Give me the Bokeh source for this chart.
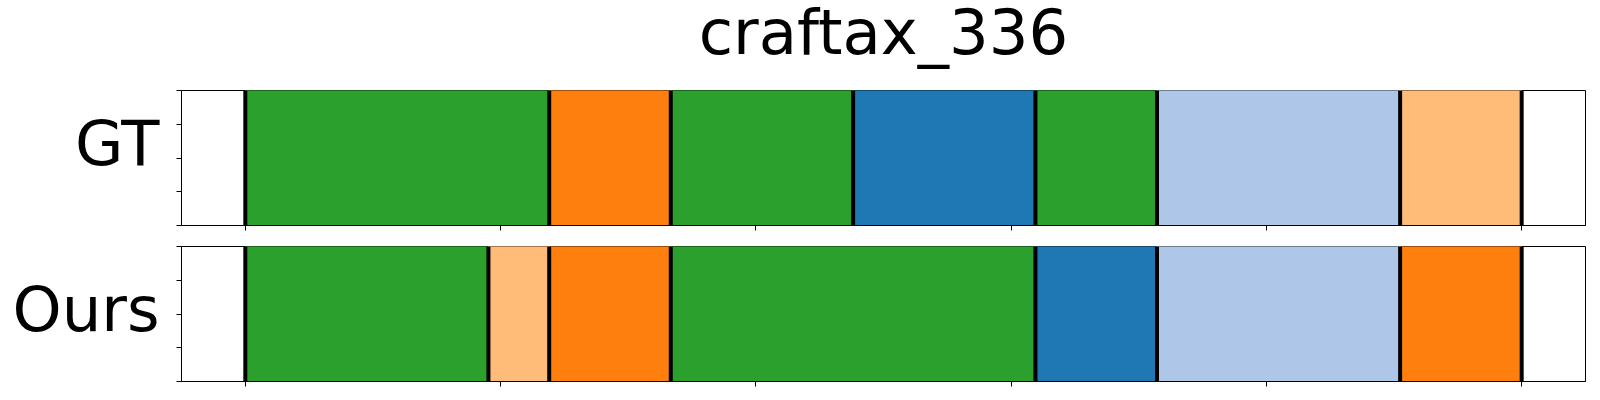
from bokeh.plotting import figure
from bokeh.layouts import column, row
from bokeh.models import Range1d, FixedTicker
from bokeh.core.properties import value
from bokeh.embed import file_html
from bokeh.resources import INLINE

# ---- data ----
title_text = "craftax_336"
row_labels = ["GT", "Ours"]
total_steps = 21
gt_bounds = [0, 5, 7, 10, 13, 15, 19, 21]
gt_colors = ["#2ca02c", "#ff7f0e", "#2ca02c", "#1f77b4", "#2ca02c", "#aec7e8", "#ffbb78"]
ours_bounds = [0, 4, 5, 7, 13, 15, 19, 21]
ours_colors = ["#2ca02c", "#ffbb78", "#ff7f0e", "#2ca02c", "#1f77b4", "#aec7e8", "#ff7f0e"]
x_ticks = [0.0, 0.2, 0.4, 0.6, 0.8, 1.0]
y_ticks = [0.0, 0.25, 0.5, 0.75, 1.0]

# ---- layout / style ----
FONT = "DejaVu Sans"
FSIZE = "62.5px"
FRAME_W = 1404
FRAME_H = 135
LABEL_W = 160
GAP_LEFT = 21
RIGHT = 6
TITLE_H = 89
X_RANGE = (-0.05, 1.05)


def blank_fig(w, h, xr, yr, left=0, right=0):
    f = figure(frame_width=w, frame_height=h, output_backend="svg",
               toolbar_location=None, x_range=Range1d(*xr), y_range=Range1d(*yr),
               x_axis_location=None, y_axis_location=None,
               min_border_left=left, min_border_right=right,
               min_border_top=0, min_border_bottom=0)
    f.xgrid.visible = False
    f.ygrid.visible = False
    f.outline_line_color = None
    f.background_fill_color = "white"
    f.border_fill_color = "white"
    return f


# title strip (shares horizontal geometry with panels)
tf = blank_fig(FRAME_W, TITLE_H, X_RANGE, (0, TITLE_H), left=LABEL_W + GAP_LEFT, right=RIGHT)
tf.text(x=[0.5], y=[56.7], text=[title_text], text_font=value(FONT),
        text_font_size=value(FSIZE), text_align="center",
        text_baseline="alphabetic", text_color="black", text_line_height=1.0)


def make_panel(bounds, colors, top_border, bottom_border):
    fr = [b / total_steps for b in bounds]
    p = figure(frame_width=FRAME_W, frame_height=FRAME_H,
               output_backend="svg", toolbar_location=None,
               x_range=Range1d(*X_RANGE), y_range=Range1d(0, 1),
               min_border_left=GAP_LEFT, min_border_right=RIGHT,
               min_border_top=top_border, min_border_bottom=bottom_border)
    p.quad(left=fr[:-1], right=fr[1:], bottom=0, top=1,
           fill_color=colors, line_color=colors, line_width=1)
    p.segment(x0=fr, y0=0, x1=fr, y1=1, line_color="black", line_width=4)

    p.xgrid.visible = False
    p.ygrid.visible = False
    p.outline_line_color = "black"
    p.outline_line_width = 1
    p.outline_line_alpha = 1
    p.background_fill_color = "white"
    p.border_fill_color = "white"

    p.xaxis.ticker = FixedTicker(ticks=x_ticks)
    p.yaxis.ticker = FixedTicker(ticks=y_ticks)
    for ax in (p.xaxis, p.yaxis):
        ax.major_label_text_font_size = "0px"
        ax.major_label_standoff = 0
        ax.minor_tick_line_color = None
        ax.major_tick_in = 0
        ax.major_tick_out = 5
        ax.major_tick_line_color = "black"
        ax.major_tick_line_width = 1
        ax.axis_line_color = "black"
        ax.axis_line_width = 1
    p.xaxis.major_label_overrides = {t: "" for t in x_ticks}
    p.yaxis.major_label_overrides = {t: "" for t in y_ticks}
    return p


def make_label(text, total_h, y_pos):
    f = blank_fig(LABEL_W, total_h, (0, LABEL_W), (0, total_h))
    f.text(x=[LABEL_W - 1], y=[y_pos], text=[text],
           text_font=value(FONT), text_font_size=value(FSIZE),
           text_align="right", text_baseline="alphabetic", text_color="black",
           text_line_height=1.0)
    return f


p1 = make_panel(gt_bounds, gt_colors, 1, 10)      # height 146
p2 = make_panel(ours_bounds, ours_colors, 11, 8)  # height 154
l1 = make_label(row_labels[0], 146, 93)
l2 = make_label(row_labels[1], 154, 91)

layout = column(tf, row(l1, p1, spacing=0), row(l2, p2, spacing=0), spacing=0)
open("out.html", "w").write(file_html(layout, INLINE))
